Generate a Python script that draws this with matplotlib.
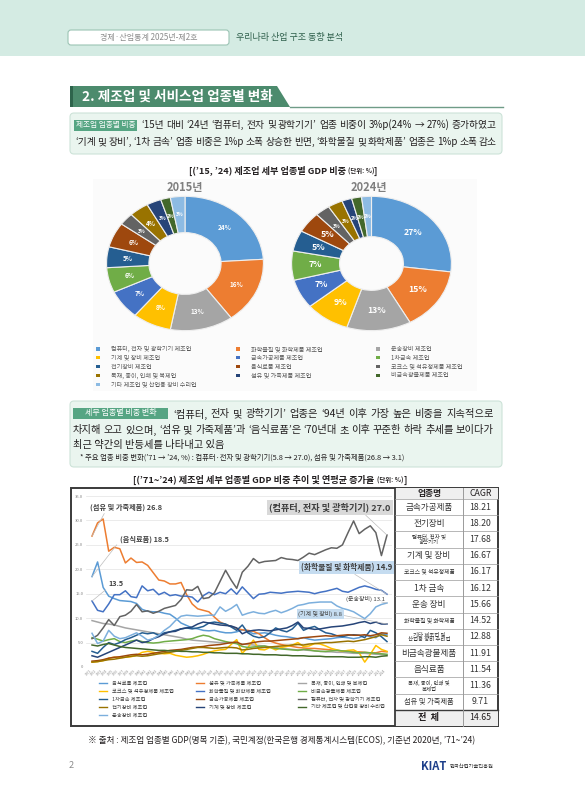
import matplotlib
matplotlib.use('Agg')
import matplotlib.pyplot as plt
from matplotlib.patches import Rectangle, FancyBboxPatch, Polygon

plt.rcParams['font.family'] = ['Noto Sans CJK KR', 'DejaVu Sans']

W, H = 585, 800

# ---------------- donut data ('15, '24 share, %)
donut_names = ['컴퓨터, 전자 및 광학기기 제조업', '화학물질 및 화학제품 제조업', '운송장비 제조업',
               '기계 및 장비 제조업', '금속가공제품 제조업', '1차금속 제조업',
               '전기장비 제조업', '음식료품 제조업', '코크스 및 석유정제품 제조업',
               '목재, 종이, 인쇄 및 복제업', '섬유 및 가죽제품 제조업', '비금속광물제품 제조업',
               '기타 제조업 및 산업용 장비 수리업']
share_2015 = [24, 16, 13, 8, 7, 6, 5, 6, 3, 4, 3, 2, 3]
share_2024 = [27, 15, 13, 9, 7, 7, 5, 5, 3, 3, 2, 2, 2]
donut_colors = ['#5b9bd5', '#ed7d31', '#a5a5a5', '#ffc000', '#4472c4', '#70ad47',
                '#255e91', '#9e480e', '#636363', '#997300', '#264478', '#43682b', '#8dbbe3']

# ---------------- line data (GDP share, %, 1971-2024)
years = list(range(1971, 2025))
food = [18.5, 21.5, 16.3, 14.5, 14.0, 13.6, 13.5, 13.4, 13.0, 11.8,
        11.4, 11.3, 11.3, 11.0, 10.8, 10.0, 9.0, 8.5, 8.0, 7.8,
        7.5, 7.4, 7.5, 7.2, 7.0, 7.0, 7.2, 7.6, 7.3, 6.8,
        6.9, 7.0, 6.8, 6.5, 6.3, 6.2, 6.0, 5.8, 6.0, 5.7,
        5.5, 5.6, 5.7, 5.8, 6.0, 6.1, 6.0, 5.8, 6.0, 6.5,
        6.2, 6.0, 6.8, 6.6]
textile = [26.8, 29.5, 30.3, 23.7, 24.5, 24.2, 21.3, 22.3, 21.4, 21.5,
           20.8, 19.3, 17.8, 17.6, 17.0, 17.0, 17.3, 14.8, 12.9, 11.9,
           11.6, 11.3, 10.2, 9.2, 8.7, 8.3, 7.9, 7.6, 7.5, 7.3,
           6.8, 6.0, 5.3, 4.9, 4.6, 4.4, 4.2, 4.0, 3.9, 3.8,
           3.8, 3.7, 3.6, 3.5, 3.4, 3.3, 3.2, 3.1, 3.1, 3.0,
           2.9, 2.9, 3.2, 3.1]
wood = [9.5, 9.2, 8.9, 8.8, 8.6, 8.3, 8.0, 7.8, 7.6, 7.4,
        7.2, 7.0, 6.8, 6.6, 6.4, 6.2, 6.0, 5.7, 5.5, 5.4,
        5.3, 5.2, 5.1, 5.0, 5.0, 4.9, 4.8, 4.7, 4.6, 4.5,
        4.4, 4.3, 4.1, 4.0, 3.8, 3.7, 3.6, 3.5, 3.5, 3.4,
        3.3, 3.2, 3.1, 3.1, 3.0, 3.0, 2.9, 2.8, 2.8, 2.8,
        2.7, 2.6, 2.6, 2.5]
coke = [1.0, 1.1, 1.3, 1.8, 2.0, 1.9, 2.0, 2.1, 2.4, 3.0,
        3.2, 3.0, 2.8, 2.7, 2.8, 2.4, 2.2, 2.0, 2.1, 2.3,
        2.6, 3.0, 3.3, 3.5, 3.6, 4.6, 5.6, 2.8, 4.0, 5.5,
        3.6, 3.5, 4.0, 3.5, 4.0, 4.2, 4.5, 5.0, 4.2, 4.3,
        4.8, 4.7, 4.3, 3.8, 3.5, 3.2, 3.4, 3.5, 2.9, 1.0,
        2.6, 4.4, 3.6, 3.2]
chemical = [13.5, 11.6, 11.3, 12.9, 14.8, 14.8, 15.6, 14.4, 14.2, 16.6,
            15.6, 15.9, 14.8, 15.3, 14.6, 14.8, 14.5, 14.5, 14.3, 13.3,
            14.6, 15.3, 14.8, 15.3, 15.0, 16.0, 14.9, 16.4, 15.2, 14.0,
            14.9, 15.0, 15.3, 15.2, 15.1, 15.3, 15.4, 15.5, 15.4, 15.3,
            15.0, 15.3, 15.5, 15.8, 16.1, 15.5, 15.3, 15.8, 16.3, 16.6,
            16.3, 15.9, 15.7, 14.9]
nonmetal = [6.0, 5.7, 5.3, 5.6, 5.8, 5.2, 5.0, 5.3, 5.5, 5.2,
            5.0, 4.9, 5.0, 5.2, 5.3, 5.4, 5.5, 5.6, 5.8, 6.2,
            6.5, 6.3, 5.8, 5.5, 5.2, 5.0, 4.8, 4.2, 4.0, 4.1,
            4.2, 4.3, 4.0, 3.8, 3.7, 3.6, 3.5, 3.4, 3.6, 3.5,
            3.3, 3.2, 3.2, 3.3, 3.4, 3.3, 3.2, 3.0, 2.9, 3.0,
            2.9, 2.8, 2.7, 2.6]
primary_metal = [3.2, 2.8, 4.0, 5.0, 4.6, 5.0, 5.6, 6.0, 6.5, 7.0,
                 6.8, 7.0, 6.5, 7.0, 7.2, 7.5, 7.8, 8.0, 7.8, 8.0,
                 8.3, 9.0, 9.2, 9.0, 8.8, 8.2, 7.5, 8.6, 7.0, 6.3,
                 6.0, 6.2, 7.0, 8.0, 7.5, 7.2, 7.8, 9.0, 7.5, 8.0,
                 8.3, 7.6, 7.0, 6.8, 6.4, 6.2, 6.5, 6.6, 6.5, 6.0,
                 7.5, 7.0, 6.2, 5.2]
metal_fab = [1.2, 1.3, 1.5, 1.8, 2.0, 2.1, 2.3, 2.5, 2.6, 2.5,
             2.6, 2.8, 3.0, 3.2, 3.4, 3.5, 3.6, 3.8, 4.0, 4.1,
             4.2, 4.4, 4.5, 4.6, 4.8, 5.0, 5.1, 4.6, 4.8, 5.0,
             5.2, 5.3, 5.3, 5.4, 5.5, 5.6, 5.7, 5.8, 6.0, 6.1,
             6.2, 6.3, 6.4, 6.3, 6.4, 6.5, 6.6, 6.5, 6.5, 6.6,
             6.4, 6.6, 7.0, 6.9]
computer = [5.8, 6.5, 8.0, 9.7, 8.5, 10.3, 10.6, 11.4, 12.8, 11.3,
            11.5, 11.0, 11.4, 12.0, 12.3, 12.6, 13.8, 15.8, 15.7, 16.5,
            14.0, 14.2, 15.2, 17.5, 19.8, 17.8, 16.1, 19.4, 20.6, 22.2,
            21.3, 21.6, 21.7, 21.8, 22.4, 22.1, 22.0, 21.8, 22.5, 23.3,
            23.0, 23.5, 24.0, 24.4, 24.3, 25.0, 27.5, 29.9, 27.3, 28.2,
            28.9, 27.5, 22.8, 27.0]
electrical = [1.0, 1.1, 1.3, 1.5, 1.6, 1.8, 2.0, 2.2, 2.3, 2.2,
              2.3, 2.5, 2.7, 2.9, 3.0, 3.2, 3.4, 3.6, 3.8, 4.0,
              4.0, 3.9, 3.8, 3.9, 4.0, 4.0, 3.9, 3.5, 3.6, 3.8,
              3.9, 4.0, 4.1, 4.2, 4.3, 4.4, 4.5, 4.6, 4.5, 4.7,
              4.8, 4.9, 5.0, 5.0, 5.1, 5.2, 5.3, 5.2, 5.4, 5.6,
              5.9, 6.2, 6.6, 6.3]
machinery = [2.3, 2.0, 2.5, 3.0, 3.5, 4.0, 4.5, 5.0, 5.5, 5.0,
             5.2, 5.8, 6.2, 6.8, 7.2, 7.3, 7.8, 8.0, 8.2, 8.8,
             9.2, 9.0, 8.8, 8.6, 8.5, 8.4, 8.0, 6.8, 7.3, 7.5,
             7.6, 7.5, 7.4, 7.6, 7.8, 8.0, 8.5, 9.2, 8.0, 7.9,
             7.7, 7.8, 8.0, 8.2, 8.3, 8.4, 8.6, 8.8, 9.1, 9.3,
             8.9, 9.2, 8.8, 8.8]
other = [4.5, 4.3, 4.6, 4.8, 4.5, 4.2, 4.0, 3.9, 3.8, 3.7,
         3.6, 3.5, 3.4, 3.4, 3.3, 3.3, 3.2, 3.2, 3.1, 3.1,
         3.0, 3.0, 2.9, 2.9, 2.8, 2.8, 2.8, 2.7, 2.7, 2.6,
         2.6, 2.5, 2.5, 2.5, 2.4, 2.4, 2.3, 2.3, 2.3, 2.2,
         2.2, 2.2, 2.1, 2.1, 2.1, 2.1, 2.0, 2.0, 2.0, 2.1,
         2.1, 2.0, 2.2, 2.3]
transport = [6.9, 4.8, 5.3, 7.5, 6.3, 5.8, 6.0, 6.5, 7.0, 6.3,
             5.5, 5.8, 6.5, 7.5, 8.3, 9.5, 10.4, 10.6, 10.5, 10.4,
             10.5, 10.6, 10.6, 12.3, 11.4, 12.0, 12.8, 10.6, 11.0, 11.3,
             11.0, 10.9, 11.3, 11.6, 11.1, 11.5, 12.0, 12.6, 12.8, 13.1,
             13.2, 13.3, 13.3, 13.3, 12.5, 12.0, 11.7, 11.3, 10.6, 9.9,
             10.9, 12.3, 12.8, 13.1]

line_series = [food, textile, wood, coke, chemical, nonmetal, primary_metal,
               metal_fab, computer, electrical, machinery, other, transport]
line_names = ['음식료품 제조업', '섬유 및 가죽제품 제조업', '목재, 종이, 인쇄 및 복제업',
              '코크스 및 석유정제품 제조업', '화학물질 및 화학제품 제조업', '비금속광물제품 제조업',
              '1차금속 제조업', '금속가공제품 제조업', '컴퓨터, 전자 및 광학기기 제조업',
              '전기장비 제조업', '기계 및 장비 제조업', '기타 제조업 및 산업용 장비 수리업',
              '운송장비 제조업']
line_colors = ['#5b9bd5', '#ed7d31', '#a5a5a5', '#ffc000', '#4472c4', '#70ad47',
               '#255e91', '#9e480e', '#636363', '#997300', '#264478', '#43682b', '#7cafdd']
y_ticks = [0, 5, 10, 15, 20, 25, 30, 35]
y_tick_labels = ['0', '5.0', '10.0', '15.0', '20.0', '25.0', '30.0', '35.0']

# ---------------- CAGR table
table_names = ['금속가공제품', '전기장비', '컴퓨터, 전자 및\n광학기기', '기계 및 장비',
               '코크스 및 석유정제품', '1차 금속', '운송 장비', '화학물질 및 화학제품',
               '기타 제조업 및\n산업용 장비 수리업', '비금속광물제품', '음식료품',
               '목재, 종이, 인쇄 및\n복제업', '섬유 및 가죽제품']
cagr = [18.21, 18.20, 17.68, 16.67, 16.17, 16.12, 15.66, 14.52, 12.88, 11.91, 11.54, 11.36, 9.71]
cagr_total = 14.65

TXT = '#231f20'

fig = plt.figure(figsize=(W / 100, H / 100), dpi=100)
bg = fig.add_axes([0, 0, 1, 1])
bg.set_xlim(0, W)
bg.set_ylim(H, 0)
bg.axis('off')
renderer = fig.canvas.get_renderer()


def box_axes(x0, y0, x1, y1):
    return fig.add_axes([x0 / W, 1 - y1 / H, (x1 - x0) / W, (y1 - y0) / H])


def justify(text, x0, x1, y, size, color=TXT):
    words = text.split(' ')
    objs = [bg.text(0, y, w, fontsize=size, color=color, va='center', ha='left') for w in words]
    widths = [o.get_window_extent(renderer).width for o in objs]
    gap = (x1 - x0 - sum(widths)) / max(len(words) - 1, 1)
    x = x0
    for o, w in zip(objs, widths):
        o.set_x(x)
        x += w + gap


def runs(parts, xc, y, color=TXT):
    objs = [bg.text(0, y, t, fontsize=s, weight=wt, color=color, va='center', ha='left')
            for t, s, wt in parts]
    widths = [o.get_window_extent(renderer).width for o in objs]
    x = xc - sum(widths) / 2
    for o, w in zip(objs, widths):
        o.set_x(x)
        x += w


# ---------------- header band
bg.add_patch(Rectangle((0, 0), W, 56, fc='#d4ebe3', ec='none'))
bg.add_patch(FancyBboxPatch((68, 30), 161, 15, boxstyle='round,pad=0,rounding_size=3',
                            fc='white', ec='#9cc4b4', lw=0.8))
bg.text(148.5, 37.5, '경제·산업통계 2025년-제2호', fontsize=5.8, color='#8c8c8c',
        ha='center', va='center')
bg.text(236, 37.5, '우리나라 산업 구조 동향 분석', fontsize=6.5, color='#2d5e4a', va='center')

# ---------------- section title
bg.add_patch(Polygon([(70, 86), (277, 86), (290, 107), (70, 107)], closed=True,
                     fc='#4c8b6d', ec='none'))
bg.add_patch(Rectangle((70, 86), 3, 21, fc='#2e644c', ec='none'))
bg.plot([290, 503], [107, 107], color='#6f9c87', lw=1)
bg.text(82, 96.5, '2. 제조업 및 서비스업 업종별 변화', fontsize=9.8, color='white',
        weight='bold', va='center')

# ---------------- box 1
bg.add_patch(FancyBboxPatch((70, 113), 432, 41, boxstyle='round,pad=0,rounding_size=4',
                            fc='#eaf5ef', ec='#cde3d8', lw=0.8))
bg.add_patch(Rectangle((74, 119.5), 63, 11, fc='#56a583', ec='none'))
bg.text(105.5, 125, '제조업 업종별 비중', fontsize=5.5, color='white', ha='center', va='center')
justify('‘15년 대비 ‘24년 ‘컴퓨터, 전자 및 광학기기’ 업종 비중이 3%p(24% → 27%) 증가하였고',
        141, 497, 125, 7)
justify('‘기계 및 장비’, ‘1차 금속’ 업종 비중은 1%p 소폭 상승한 반면, ‘화학물질 및 화학제품’ 업종은 1%p 소폭 감소',
        75, 497, 142, 7)

# ---------------- donuts
runs([('[(’15, ’24) 제조업 세부 업종별 GDP 비중 ', 6.6, 'bold'), ('(단위: %)', 4.6, 'bold'),
      (']', 6.6, 'bold')], 283, 171)
bg.add_patch(Rectangle((93, 179), 384, 212, fc='#fbfbfb', ec='none'))
bg.text(185, 187, '2015년', fontsize=8, weight='bold', color='#7f7f7f', ha='center', va='center')
bg.text(369, 187, '2024년', fontsize=8, weight='bold', color='#7f7f7f', ha='center', va='center')

for share, box, width, lsize in [(share_2015, (105, 195, 265, 332), 0.54, 4.6),
                                 (share_2024, (290, 195, 453, 332), 0.6, 6.3)]:
    ax = box_axes(*box)
    wedges, texts, autotexts = ax.pie(
        share, colors=donut_colors, startangle=90, counterclock=False,
        wedgeprops=dict(width=width, edgecolor='#eeeeee', linewidth=0.8),
        autopct=lambda p: f'{p:.0f}%', pctdistance=1 - width / 2,
        textprops=dict(color='white', fontsize=lsize, weight='bold'))
    for v, t in zip(share, autotexts):
        if v <= 3:
            t.set_fontsize(3.6)
    ax.set_aspect('auto')
    ax.set_xlim(-1.02, 1.02)
    ax.set_ylim(-1.02, 1.02)

for i, name in enumerate(donut_names):
    r, c = divmod(i, 3)
    xm = [98, 238, 378][c]
    y = 349 + r * 8.8
    bg.add_patch(Rectangle((xm - 1.6, y - 1.6), 3.2, 3.2, fc=donut_colors[i], ec='none'))
    bg.text(xm + 13, y, name, fontsize=4.4, color='#595959', va='center')

# ---------------- box 2
bg.add_patch(FancyBboxPatch((70, 401), 432, 66, boxstyle='round,pad=0,rounding_size=4',
                            fc='#eaf5ef', ec='#cde3d8', lw=0.8))
bg.add_patch(Rectangle((73, 407.5), 95, 11, fc='#56a583', ec='none'))
bg.text(120.5, 413, '세부 업종별 비중 변화', fontsize=5.8, color='white', ha='center', va='center')
justify('‘컴퓨터, 전자 및 광학기기’ 업종은 ‘94년 이후 가장 높은 비중을 지속적으로',
        173, 494, 414, 7.4)
justify('차지해 오고 있으며, ‘섬유 및 가죽제품’과 ‘음식료품’은 ‘70년대 초 이후 꾸준한 하락 추세를 보이다가',
        73, 494, 430, 7.4)
bg.text(73, 445, '최근 약간의 반등세를 나타내고 있음', fontsize=7.4, color=TXT, va='center')
bg.text(80, 457.5, '* 주요 업종 비중 변화(’71 → ’24, %) : 컴퓨터·전자 및 광학기기(5.8 → 27.0), '
        '섬유 및 가죽제품(26.8 → 3.1)', fontsize=5.3, color=TXT, va='center')

# ---------------- line chart + table frame
runs([('[(’71~’24) 제조업 세부 업종별 GDP 비중 추이 및 연평균 증가율 ', 6.6, 'bold'),
      ('(단위: %)', 4.6, 'bold'), (']', 6.6, 'bold')], 270, 480)
bg.add_patch(Rectangle((71, 488), 427, 238, fc='white', ec='#3a3a3a', lw=1.4))
bg.plot([395, 395], [488, 726], color='#3a3a3a', lw=1.3)

ax = box_axes(86, 496, 392, 667)
for vals, col in zip(line_series, line_colors):
    ax.plot(years, vals, color=col, lw=1.1, solid_joinstyle='round')
ax.set_xlim(1969.92, 2024.9)
ax.set_ylim(0, 35)
ax.set_yticks(y_ticks)
ax.set_yticklabels(y_tick_labels)
ax.set_xticks(years)
ax.set_xticklabels([str(y) for y in years], rotation=45, ha='right')
ax.tick_params(axis='y', length=0, pad=2, labelsize=3, labelcolor='#7f7f7f')
ax.tick_params(axis='x', length=0, pad=1.5, labelsize=2.4, labelcolor='#8c8c8c')
ax.grid(axis='y', color='#e3e3e3', lw=0.5)
ax.set_axisbelow(True)
for s in ax.spines.values():
    s.set_visible(False)

lead = dict(arrowstyle='-', color='#bdbdbd', lw=0.5, shrinkA=0, shrinkB=0)
ax.annotate('(섬유 및 가죽제품) 26.8', xy=(years[0], textile[0]), xytext=(126, 507),
            textcoords=bg.transData, fontsize=5.2, weight='bold', color='#404040',
            ha='center', va='center', arrowprops=dict(lead, relpos=(0.22, 0)))
ax.annotate('(음식료품) 18.5', xy=(years[0], food[0]), xytext=(144, 539),
            textcoords=bg.transData, fontsize=5.2, weight='bold', color='#404040',
            ha='center', va='center', arrowprops=dict(lead, relpos=(0, 0.2)))
ax.annotate('13.5', xy=(years[0], chemical[0]), xytext=(116, 584),
            textcoords=bg.transData, fontsize=5.2, weight='bold', color='#404040',
            ha='center', va='center', arrowprops=dict(lead, relpos=(0, 0)))
ax.annotate('(컴퓨터, 전자 및 광학기기) 27.0', xy=(years[-1], computer[-1]), xytext=(330, 507.5),
            textcoords=bg.transData, fontsize=6.6, weight='bold', color='#404040',
            ha='center', va='center',
            bbox=dict(boxstyle='square,pad=0.3', fc='#d9d9d9', ec='none'),
            arrowprops=dict(lead, relpos=(0.77, 0)))
ax.annotate('(화학물질 및 화학제품) 14.9', xy=(years[-1], chemical[-1]), xytext=(346.5, 567.5),
            textcoords=bg.transData, fontsize=5.6, weight='bold', color='#404040',
            ha='center', va='center',
            bbox=dict(boxstyle='square,pad=0.3', fc='#c5dcf0', ec='none'),
            arrowprops=dict(lead, relpos=(0.55, 0)))
ax.annotate('(운송장비) 13.1', xy=(years[-1], transport[-1]), xytext=(366, 599),
            textcoords=bg.transData, fontsize=4.3, color='#404040',
            ha='center', va='center', arrowprops=dict(lead, relpos=(0.9, 0)))
ax.annotate('(기계 및 장비) 8.8', xy=(years[-1], machinery[-1]), xytext=(320.5, 614),
            textcoords=bg.transData, fontsize=4.3, color='#404040',
            ha='center', va='center',
            bbox=dict(boxstyle='square,pad=0.3', fc='#c5dcf0', ec='none'),
            arrowprops=dict(lead, relpos=(1, 0.3)))

for i, name in enumerate(line_names):
    r, c = divmod(i, 3)
    xm = [99, 196, 298][c]
    y = 683 + r * 8
    bg.plot([xm, xm + 8], [y, y], color=line_colors[i], lw=1.0)
    bg.text(xm + 13, y, name, fontsize=3.8, color='#404040', va='center')

# ---------------- CAGR table
tx0, tx1, tdiv = 395, 498, 463
top, head_b, bottom = 488, 499, 726
row_h = (bottom - head_b) / (len(table_names) + 1)
bg.add_patch(Rectangle((tx0, top), tx1 - tx0, head_b - top, fc='#efefef', ec='none'))
bg.add_patch(Rectangle((tx0, bottom - row_h), tx1 - tx0, row_h, fc='#efefef', ec='none'))
bg.text((tx0 + tdiv) / 2, (top + head_b) / 2, '업종명', fontsize=6.3, weight='bold', color=TXT,
        ha='center', va='center')
bg.text((tdiv + tx1) / 2, (top + head_b) / 2, 'CAGR', fontsize=6.3, color=TXT,
        ha='center', va='center')
for i, (name, val) in enumerate(zip(table_names, cagr)):
    yc = head_b + row_h * (i + 0.5)
    if '\n' in name:
        fs = 3.9
    elif len(name) <= 7:
        fs = 6.2
    elif len(name) <= 9:
        fs = 5.2
    else:
        fs = 4.2
    bg.text((tx0 + tdiv) / 2, yc, name, fontsize=fs, color='#333333', ha='center', va='center',
            linespacing=1.0)
    bg.text((tdiv + tx1) / 2, yc, f'{val:.2f}', fontsize=6.3, color='#333333',
            ha='center', va='center')
    bg.plot([tx0, tx1], [head_b + row_h * i, head_b + row_h * i], color='#9a9a9a', lw=0.5)
yc = bottom - row_h / 2
bg.text((tx0 + tdiv) / 2, yc, '전  체', fontsize=6.6, weight='bold', color=TXT, ha='center', va='center')
bg.text((tdiv + tx1) / 2, yc, f'{cagr_total:.2f}', fontsize=6.3, color=TXT, ha='center', va='center')
bg.plot([tx0, tx1], [bottom - row_h, bottom - row_h], color='#3a3a3a', lw=1.0)
bg.plot([tdiv, tdiv], [top, bottom], color='#9a9a9a', lw=0.7)

# ---------------- footer
bg.text(88, 741, '※ 출처 : 제조업 업종별 GDP(명목 기준), 국민계정(한국은행 경제통계시스템(ECOS), '
        '기준년 2020년, ’71~’24)', fontsize=6.2, color=TXT, va='center')
bg.text(69, 766, '2', fontsize=6.5, color='#8c8c8c', va='center')
bg.text(421, 766, 'KIAT', fontsize=8, weight='bold', style='italic', color='#1d3f8a', va='center')
bg.text(450, 766, '한국산업기술진흥원', fontsize=3.8, color='#333333', va='center')

fig.savefig('out.png', dpi=100)
